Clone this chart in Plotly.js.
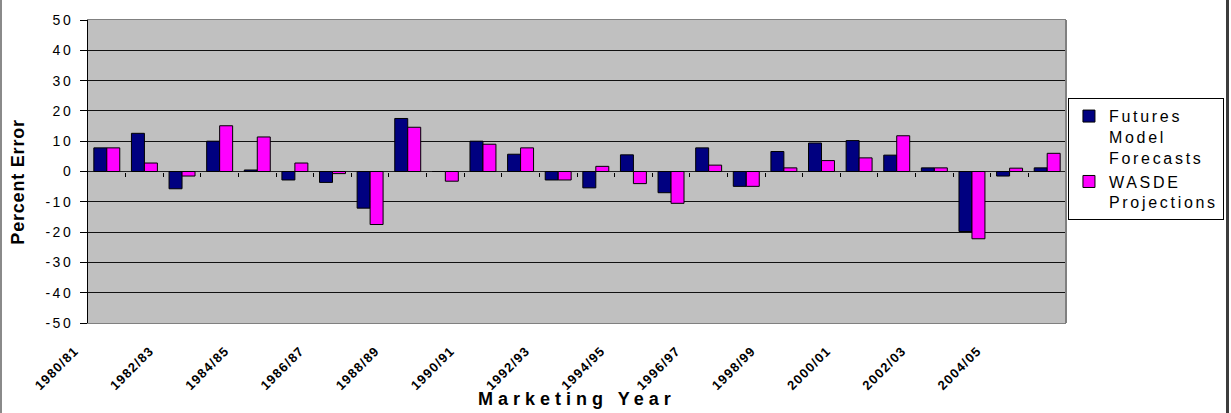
<!DOCTYPE html>
<html>
<head>
<meta charset="utf-8">
<script src="https://cdn.plot.ly/plotly-3.0.1.min.js"></script>
<style>
  body { margin: 0; background: #fff; }
  #wrap { position: relative; width: 1231px; height: 413px; }
  #chart { width: 1231px; height: 413px; }
  #bl { position: absolute; left: 0; top: 0; width: 2px; height: 413px; background: #8a8a8a; }
  #br { position: absolute; left: 1226px; top: 0; width: 3px; height: 413px; background: #3c3c3c; }
  .ytick text { letter-spacing: 2.5px; }
  .xtick text { letter-spacing: 1.2px; }
  .legendtext { letter-spacing: 2.7px; }
  text[data-unformatted="Marketing Year"] { letter-spacing: 5px; }
  text[data-unformatted="Percent Error"] { letter-spacing: 0.8px; }
</style>
</head>
<body>
<div id="wrap">
  <div id="chart"></div>
  <div id="bl"></div>
  <div id="br"></div>
</div>
<script>
const years = ['1980/81','1981/82','1982/83','1983/84','1984/85','1985/86','1986/87','1987/88','1988/89','1989/90',
               '1990/91','1991/92','1992/93','1993/94','1994/95','1995/96','1996/97','1997/98','1998/99','1999/00',
               '2000/01','2001/02','2002/03','2003/04','2004/05','2005/06'];
const futuresModel = [7.8, 12.6, -5.7, 10.0, 0.5, -2.8, -3.6, -12.1, 17.5, 0.0,
                      10.0, 5.7, -2.8, -5.4, 5.5, -7.0, 7.8, -4.9, 6.6, 9.4,
                      10.2, 5.4, 1.2, -19.8, -1.5, 1.2];
const wasdeProj = [7.8, 2.8, -1.5, 15.1, 11.4, 2.8, -0.7, -17.5, 14.6, -3.2,
                   9.0, 7.8, -2.8, 1.7, -4.0, -10.5, 2.1, -4.9, 1.2, 3.6,
                   4.5, 11.8, 1.2, -22.2, 1.1, 6.0];
const seriesNames = ['Futures<br>Model<br>Forecasts', 'WASDE<br>Projections'];
const tickLabels = years.filter((_, i) => i % 2 === 0);
const yTickVals = [-50, -40, -30, -20, -10, 0, 10, 20, 30, 40, 50];
const yTickText = yTickVals.map(v => String(v));
const boundaries = years.slice(1).map((_, i) => i + 0.5);

const font = 'Arial, "Liberation Sans", sans-serif';

const traces = [
  {
    type: 'bar', x: years, y: futuresModel, name: seriesNames[0],
    marker: { color: '#000080', line: { color: '#000', width: 1 } },
    hoverinfo: 'x+y'
  },
  {
    type: 'bar', x: years, y: wasdeProj, name: seriesNames[1],
    marker: { color: '#FF00FF', line: { color: '#000', width: 1 } },
    hoverinfo: 'x+y'
  },
  {
    type: 'scatter', mode: 'none', x: [0], y: [null], xaxis: 'x2',
    showlegend: false, hoverinfo: 'skip'
  }
];

const layout = {
  width: 1231, height: 413,
  margin: { l: 88, r: 165, t: 20, b: 90, autoexpand: false },
  paper_bgcolor: '#fff',
  plot_bgcolor: '#C0C0C0',
  barmode: 'group',
  bargap: 0.31,
  bargroupgap: 0,
  showlegend: true,
  font: { family: font, color: '#000' },
  xaxis: {
    type: 'category',
    categoryorder: 'array', categoryarray: years,
    range: [-0.5, years.length - 0.5],
    tickmode: 'array', tickvals: tickLabels, ticktext: tickLabels,
    tickangle: -45,
    ticks: '',
    ticklabelshift: -32,
    ticklabelstandoff: 14,
    tickfont: { family: font, size: 13, weight: 'bold', color: '#000' },
    showgrid: false,
    showline: true, linecolor: '#808080', linewidth: 1, mirror: true,
    zeroline: false,
    fixedrange: true
  },
  xaxis2: {
    overlaying: 'x', anchor: 'free', position: 0.5,
    range: [-0.5, years.length - 0.5],
    tickmode: 'array', tickvals: boundaries,
    ticks: 'outside', ticklen: 4, tickwidth: 1, tickcolor: '#000',
    showticklabels: false, showgrid: false, zeroline: false, showline: false,
    fixedrange: true
  },
  yaxis: {
    range: [-50, 50],
    tickmode: 'array', tickvals: yTickVals, ticktext: yTickText,
    ticks: 'outside', ticklen: 7, tickwidth: 1, tickcolor: '#000',
    ticklabelstandoff: 4,
    tickfont: { family: font, size: 14, color: '#000' },
    showline: true, linecolor: '#000', linewidth: 1,
    showgrid: true, gridcolor: '#111', gridwidth: 1,
    zeroline: true, zerolinecolor: '#222', zerolinewidth: 1,
    fixedrange: true
  },
  shapes: [
    { type: 'line', xref: 'paper', yref: 'paper', x0: 1, x1: 1, y0: 0, y1: 1,
      line: { color: '#808080', width: 2 } }
  ],
  annotations: [
    { text: 'Percent Error', xref: 'paper', yref: 'paper', x: -0.071, y: 0.465,
      textangle: -90, showarrow: false, xanchor: 'center', yanchor: 'middle',
      font: { family: font, size: 18, weight: 'bold', color: '#000' } },
    { text: 'Marketing Year', xref: 'paper', yref: 'paper', x: 0.5, y: -0.251,
      showarrow: false, xanchor: 'center', yanchor: 'middle',
      font: { family: font, size: 18, weight: 'bold', color: '#000' } }
  ],
  legend: {
    x: 1.002, y: 0.742, xanchor: 'left', yanchor: 'top',
    bgcolor: '#fff', bordercolor: '#000', borderwidth: 1,
    font: { family: font, size: 16, color: '#000' },
    valign: 'top', itemwidth: 30, tracegroupgap: 14,
    traceorder: 'normal'
  }
};

Plotly.newPlot('chart', traces, layout, { displayModeBar: false, staticPlot: true });
</script>
</body>
</html>
